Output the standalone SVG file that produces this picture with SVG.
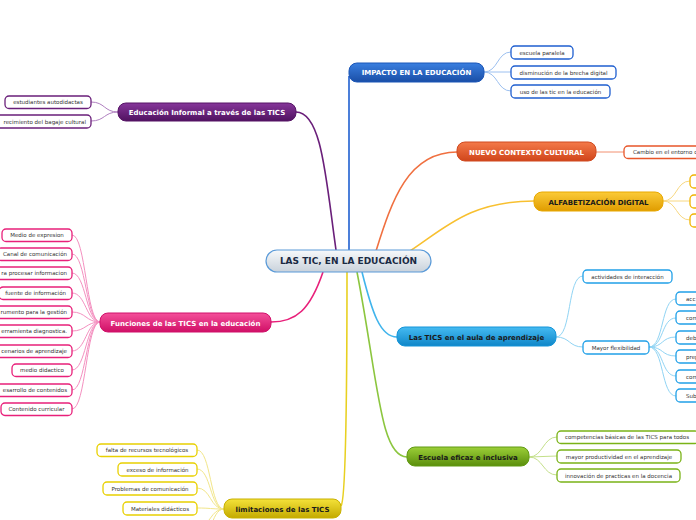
<svg xmlns="http://www.w3.org/2000/svg" width="696" height="520" viewBox="0 0 696 520">
<defs>
<linearGradient id="gC" x1="0" y1="0" x2="0" y2="1"><stop offset="0" stop-color="#f7f9fb"/><stop offset="1" stop-color="#c9d2db"/></linearGradient>
<linearGradient id="gBlue" x1="0" y1="0" x2="0" y2="1"><stop offset="0" stop-color="#3a7fe0"/><stop offset="1" stop-color="#1a4ea6"/></linearGradient>
<linearGradient id="gOr" x1="0" y1="0" x2="0" y2="1"><stop offset="0" stop-color="#f47a4a"/><stop offset="1" stop-color="#d0451a"/></linearGradient>
<linearGradient id="gGold" x1="0" y1="0" x2="0" y2="1"><stop offset="0" stop-color="#fbcb38"/><stop offset="1" stop-color="#e09c00"/></linearGradient>
<linearGradient id="gSky" x1="0" y1="0" x2="0" y2="1"><stop offset="0" stop-color="#45bbf2"/><stop offset="1" stop-color="#0f86c8"/></linearGradient>
<linearGradient id="gGreen" x1="0" y1="0" x2="0" y2="1"><stop offset="0" stop-color="#9ccf38"/><stop offset="1" stop-color="#5a8e0c"/></linearGradient>
<linearGradient id="gYel" x1="0" y1="0" x2="0" y2="1"><stop offset="0" stop-color="#f4e23a"/><stop offset="1" stop-color="#c4aa00"/></linearGradient>
<linearGradient id="gPink" x1="0" y1="0" x2="0" y2="1"><stop offset="0" stop-color="#f4509a"/><stop offset="1" stop-color="#d00f66"/></linearGradient>
<linearGradient id="gPur" x1="0" y1="0" x2="0" y2="1"><stop offset="0" stop-color="#86369a"/><stop offset="1" stop-color="#501260"/></linearGradient>
</defs>
<style>
text{font-family:"DejaVu Sans",Verdana,sans-serif}
.t{font-size:7px;font-weight:bold;text-anchor:middle}
.w{fill:#ffffff}
.d{fill:#1a1a1a}
.c{font-size:5.5px;fill:#333333;text-anchor:middle}
.ce{font-size:5.5px;fill:#333333;text-anchor:end}
.cs{font-size:5.5px;fill:#333333;text-anchor:start}
.box{fill:#ffffff;stroke-width:1.3}
.ln{fill:none;stroke-width:1}
.main{fill:none;stroke-width:1.6}
</style>
<g id="connectors">
<path class="main" stroke="#1f5fd0" d="M349,251 L349,76"/>
<path class="main" stroke="#f07040" d="M376,251 C392,200 408,152 457,152"/>
<path class="main" stroke="#f8c030" d="M410,251 C445,228 470,201 534,201"/>
<path class="main" stroke="#40b4ec" d="M362,272 C372,312 380,337 397,337"/>
<path class="main" stroke="#8cc63f" d="M357,272 C378,380 380,457 407,457"/>
<path class="main" stroke="#e8d020" d="M347,272 C347,400 346,500 341,506"/>
<path class="main" stroke="#e8207a" d="M323,272 C310,310 296,322 271,322"/>
<path class="main" stroke="#6a1f7a" d="M336,250 C326,180 322,112 296,112"/>
<g stroke="#9cc0f0" class="ln">
<path d="M484,72 C498,72 497,52 511,52"/><path d="M484,72 L511,72"/><path d="M484,72 C498,72 497,91 511,91"/>
</g>
<path class="ln" stroke="#f29070" d="M596,152 L624,152"/>
<g stroke="#f8d880" class="ln">
<path d="M663,201 C677,201 676,181 690,181"/><path d="M663,201 L690,201"/><path d="M663,201 C677,201 676,220 690,220"/>
</g>
<g stroke="#90d4f4" class="ln">
<path d="M556,337 C572,337 567,276 583,276"/><path d="M556,337 C570,337 569,347 583,347"/>
<path d="M649,347 C664,347 661,299 676,299"/><path d="M649,347 C664,347 661,318 676,318"/><path d="M649,347 C664,347 661,337 676,337"/>
<path d="M649,347 C664,347 661,356 676,356"/><path d="M649,347 C664,347 661,376 676,376"/><path d="M649,347 C664,347 661,396 676,396"/>
</g>
<g stroke="#c4e08a" class="ln">
<path d="M529,457 C543,457 543,437 557,437"/><path d="M529,457 L557,456"/><path d="M529,457 C543,457 543,475 557,475"/>
</g>
<g stroke="#f2e68a" class="ln">
<path d="M224,509 C210,509 211,450 197,450"/><path d="M224,509 C210,509 211,469 197,469"/><path d="M224,509 C210,509 211,488 197,488"/>
<path d="M224,509 C210,509 211,508 197,508"/><path d="M224,509 C210,509 211,527 197,527"/><path d="M224,509 C210,509 211,546 197,546"/>
</g>
<g stroke="#f490c0" class="ln">
<path d="M100,322 C86,322 86,235 72,235"/><path d="M100,322 C86,322 86,254 72,254"/><path d="M100,322 C86,322 86,273 72,273"/>
<path d="M100,322 C86,322 86,293 72,293"/><path d="M100,322 C86,322 86,312 72,312"/><path d="M100,322 C86,322 86,331 72,331"/>
<path d="M100,322 C86,322 86,351 72,351"/><path d="M100,322 C86,322 86,370 72,370"/><path d="M100,322 C86,322 86,390 72,390"/>
<path d="M100,322 C86,322 86,409 72,409"/>
</g>
<g stroke="#b080c0" class="ln">
<path d="M118,112 C104,112 105,102 91,102"/><path d="M118,112 C104,112 105,121 91,121"/>
</g>
</g>
<g id="center">
<rect x="266" y="250" width="165" height="22" rx="11" fill="url(#gC)" stroke="#5a9ad8" stroke-width="1.2"/>
<text x="348.5" y="264.3" style="font-size:9px;font-weight:bold;text-anchor:middle;fill:#1a2a44">LAS TIC, EN LA EDUCACIÓN</text>
</g>
<g id="impacto">
<rect x="349" y="63" width="135" height="19" rx="8" fill="url(#gBlue)" stroke="#1b56b8"/>
<text class="t w" x="416.5" y="75">IMPACTO EN LA EDUCACIÓN</text>
</g>
<g id="impacto-1"><rect class="box" stroke="#1f5fd0" x="511" y="46" width="62" height="13" rx="4"/><text class="c" x="542" y="54.5">escuela paralela</text></g>
<g id="impacto-2"><rect class="box" stroke="#1f5fd0" x="511" y="66" width="105" height="13" rx="4"/><text class="c" x="563.5" y="74.5">disminución de la brecha digital</text></g>
<g id="impacto-3"><rect class="box" stroke="#1f5fd0" x="511" y="85" width="99" height="13" rx="4"/><text class="c" x="560.5" y="93.5">uso de las tic en la educación</text></g>
<g id="nuevo">
<rect x="457" y="142" width="139" height="19" rx="8" fill="url(#gOr)" stroke="#d04a20"/>
<text class="t w" x="526.5" y="154.5">NUEVO CONTEXTO CULTURAL</text>
</g>
<g id="nuevo-1"><rect class="box" stroke="#e8562a" x="624" y="146" width="90" height="12.5" rx="4"/><text class="cs" x="633" y="154.3">Cambio en el entorno c</text></g>
<g id="alfa">
<rect x="534" y="192" width="129" height="19" rx="8" fill="url(#gGold)" stroke="#e8a800"/>
<text class="t d" x="598.5" y="204.5">ALFABETIZACIÓN DIGITAL</text>
</g>
<g id="alfa-1"><rect class="box" stroke="#f0b400" x="690" y="175" width="30" height="13" rx="4"/></g>
<g id="alfa-2"><rect class="box" stroke="#f0b400" x="690" y="195" width="30" height="13" rx="4"/></g>
<g id="alfa-3"><rect class="box" stroke="#f0b400" x="690" y="214" width="30" height="13" rx="4"/></g>
<g id="aula">
<rect x="397" y="327" width="159" height="19" rx="8" fill="url(#gSky)" stroke="#1494d8"/>
<text class="t d" x="476.5" y="339.5">Las TICS en el aula de aprendizaje</text>
</g>
<g id="aula-1"><rect class="box" stroke="#20a0e8" x="583" y="270" width="89" height="13" rx="4"/><text class="c" x="627.5" y="278.5">actividades de interacción</text></g>
<g id="aula-2"><rect class="box" stroke="#20a0e8" x="583" y="341" width="66" height="13" rx="4"/><text class="c" x="616" y="349.5">Mayor flexibilidad</text></g>
<g id="flex-1"><rect class="box" stroke="#20a0e8" x="676" y="292" width="40" height="13" rx="4"/><text class="cs" x="686" y="300.5">acc</text></g>
<g id="flex-2"><rect class="box" stroke="#20a0e8" x="676" y="311" width="40" height="13" rx="4"/><text class="cs" x="686" y="319.5">com</text></g>
<g id="flex-3"><rect class="box" stroke="#20a0e8" x="676" y="331" width="40" height="13" rx="4"/><text class="cs" x="686" y="339.5">deb</text></g>
<g id="flex-4"><rect class="box" stroke="#20a0e8" x="676" y="350" width="40" height="13" rx="4"/><text class="cs" x="686" y="358.5">prep</text></g>
<g id="flex-5"><rect class="box" stroke="#20a0e8" x="676" y="370" width="40" height="13" rx="4"/><text class="cs" x="686" y="378.5">com</text></g>
<g id="flex-6"><rect class="box" stroke="#20a0e8" x="676" y="389" width="40" height="13" rx="4"/><text class="cs" x="686" y="397.5">Sub</text></g>
<g id="escuela">
<rect x="407" y="447" width="122" height="19" rx="8" fill="url(#gGreen)" stroke="#609a12"/>
<text class="t d" x="468" y="459.5">Escuela eficaz e inclusiva</text>
</g>
<g id="escuela-1"><rect class="box" stroke="#7ab317" x="557" y="431" width="142" height="12.5" rx="4"/><text class="c" x="627" y="439.3">competencias básicas de las TICS para todos</text></g>
<g id="escuela-2"><rect class="box" stroke="#7ab317" x="557" y="450" width="124" height="13" rx="4"/><text class="c" x="619" y="458.5">mayor productividad en el aprendizaje</text></g>
<g id="escuela-3"><rect class="box" stroke="#7ab317" x="557" y="469" width="123" height="13" rx="4"/><text class="c" x="618.5" y="477.5">innovación de practicas en la docencia</text></g>
<g id="limitaciones">
<rect x="224" y="499" width="117" height="19" rx="8" fill="url(#gYel)" stroke="#c8b000"/>
<text class="t d" x="282.5" y="511.5">limitaciones de las TICS</text>
</g>
<g id="lim-1"><rect class="box" stroke="#e8d000" x="97" y="444" width="100" height="12.5" rx="4"/><text class="c" x="147" y="452.3">falta de recursos tecnológicos</text></g>
<g id="lim-2"><rect class="box" stroke="#e8d000" x="118" y="463" width="79" height="13" rx="4"/><text class="c" x="157.5" y="471.5">exceso de información</text></g>
<g id="lim-3"><rect class="box" stroke="#e8d000" x="103" y="482" width="94" height="13" rx="4"/><text class="c" x="150" y="490.5">Problemas de comunicación</text></g>
<g id="lim-4"><rect class="box" stroke="#e8d000" x="123" y="502" width="74" height="13" rx="4"/><text class="c" x="160" y="510.5">Materiales didácticos</text></g>
<g id="funciones">
<rect x="100" y="313" width="171" height="19" rx="8" fill="url(#gPink)" stroke="#d0106a"/>
<text class="t w" x="185.5" y="325.5">Funciones de las TICS en la educación</text>
</g>
<g id="fun-1"><rect class="box" stroke="#e8207a" x="2" y="229" width="70" height="12.5" rx="4"/><text class="c" x="37" y="237.3">Medio de expresion</text></g>
<g id="fun-2"><rect class="box" stroke="#e8207a" x="-3" y="248" width="75" height="12.5" rx="4"/><text class="ce" x="67" y="256.3">Canal de comunicación</text></g>
<g id="fun-3"><rect class="box" stroke="#e8207a" x="-30" y="267" width="102" height="12.5" rx="4"/><text class="ce" x="67" y="275.3">ra procesar informacion</text></g>
<g id="fun-4"><rect class="box" stroke="#e8207a" x="-1" y="287" width="73" height="12.5" rx="4"/><text class="ce" x="66" y="295.3">fuente de información</text></g>
<g id="fun-5"><rect class="box" stroke="#e8207a" x="-30" y="306" width="102" height="12.5" rx="4"/><text class="ce" x="67" y="314.3">rumento para la gestión</text></g>
<g id="fun-6"><rect class="box" stroke="#e8207a" x="-30" y="325" width="102" height="12.5" rx="4"/><text class="ce" x="67" y="333.3">erramienta diagnostica.</text></g>
<g id="fun-7"><rect class="box" stroke="#e8207a" x="-30" y="345" width="102" height="12.5" rx="4"/><text class="ce" x="67" y="353.3">cenarios de aprendizaje</text></g>
<g id="fun-8"><rect class="box" stroke="#e8207a" x="12" y="364" width="60" height="12.5" rx="4"/><text class="c" x="42" y="372.3">medio didactico</text></g>
<g id="fun-9"><rect class="box" stroke="#e8207a" x="-30" y="384" width="102" height="12.5" rx="4"/><text class="ce" x="67" y="392.3">esarrollo de contenidos</text></g>
<g id="fun-10"><rect class="box" stroke="#e8207a" x="1" y="403" width="71" height="12.5" rx="4"/><text class="c" x="36.5" y="411.3">Contenido curricular</text></g>
<g id="informal">
<rect x="118" y="103" width="178" height="18" rx="8" fill="url(#gPur)" stroke="#561466"/>
<text class="t w" x="207" y="115">Educación Informal a través de las TICS</text>
</g>
<g id="inf-1"><rect class="box" stroke="#6a1f7a" x="5" y="96" width="86" height="12.5" rx="4"/><text class="c" x="48" y="104.3">estudiantes autodidactas</text></g>
<g id="inf-2"><rect class="box" stroke="#6a1f7a" x="-30" y="115" width="121" height="13" rx="4"/><text class="ce" x="86" y="123.5">recimiento del bagaje cultural</text></g>
</svg>
